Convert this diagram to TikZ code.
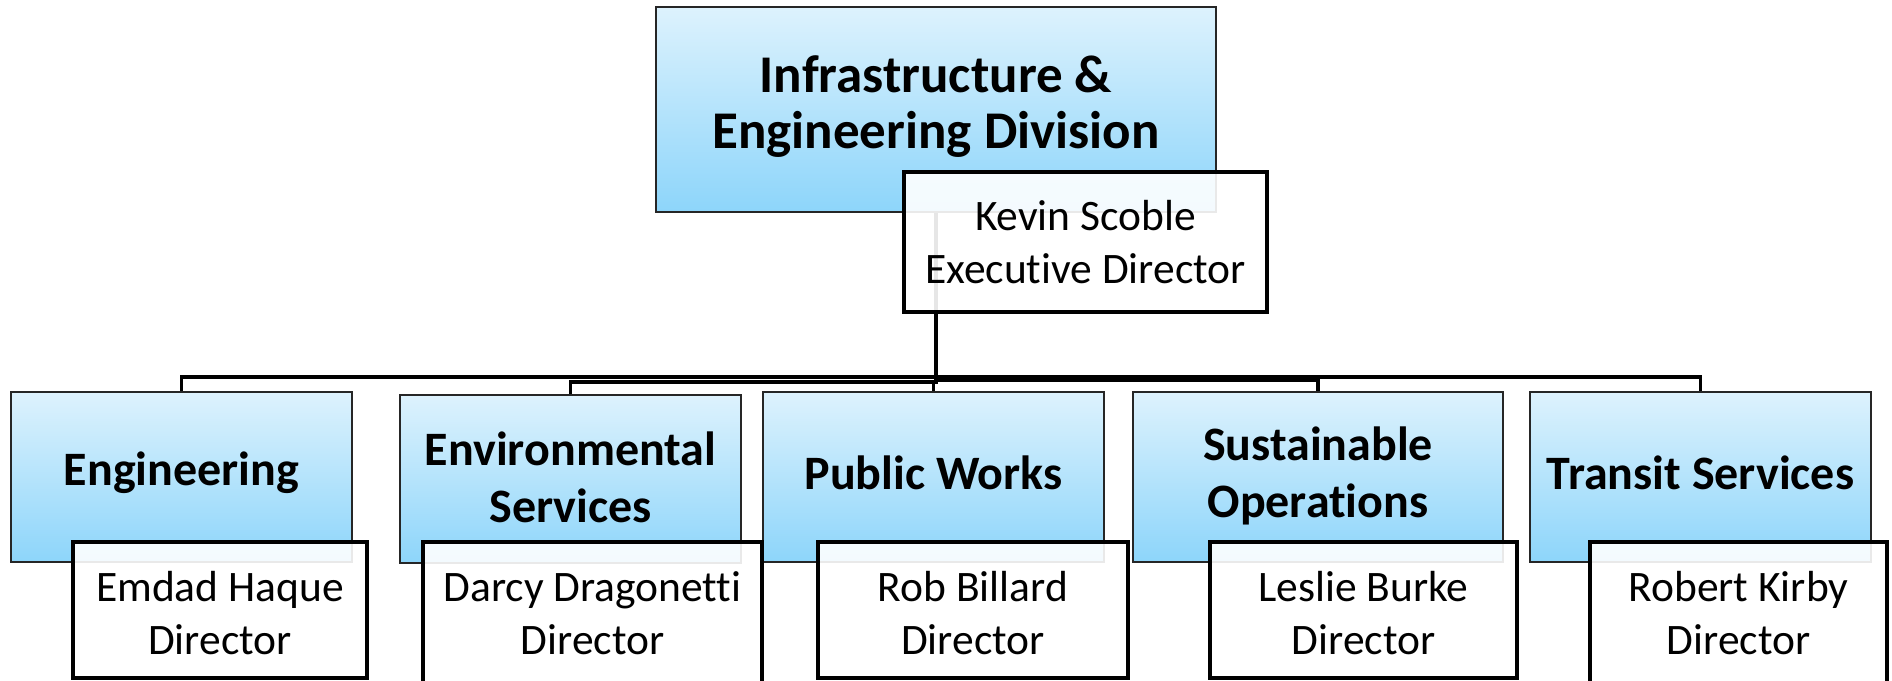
\documentclass[tikz,border=0pt]{standalone}
\usepackage{fontspec}
\setmainfont{Carlito}[Ligatures=NoCommon]
\begin{document}
\begin{tikzpicture}[x=1pt,y=-1pt,
  bluebox/.style={draw=black!85, line width=1.6pt, top color=topblue, bottom color=botblue, shading angle=0, inner sep=0pt},
  dirbox/.style={draw=black, line width=3.6pt, fill=white, fill opacity=0.9, inner sep=0pt},
  title/.style={align=center, font=\fontsize{48}{57}\selectfont\bfseries, inner sep=0pt},
  toptitle/.style={align=center, font=\fontsize{53}{56}\selectfont\bfseries, inner sep=0pt},
  person/.style={align=center, font=\fontsize{43.5}{53}\selectfont, inner sep=0pt},
  conn/.style={draw=black, line width=3.2pt, line join=miter}
]
\definecolor{topblue}{RGB}{221,242,253}
\definecolor{botblue}{RGB}{141,213,250}
\useasboundingbox (0,0) rectangle (1892,680);
\clip (0,0) rectangle (1892,680);
\fill[white] (0,0) rectangle (1892,680);

% blue boxes
\node[bluebox, minimum width=560, minimum height=205] (top) at (936,109.5) {};
\node[bluebox, minimum width=341, minimum height=170] (eng) at (181.5,477) {};
\node[bluebox, minimum width=341, minimum height=168] (env) at (570.5,479) {};
\node[bluebox, minimum width=341, minimum height=170] (pw) at (933.5,477) {};
\node[bluebox, minimum width=370, minimum height=170] (sust) at (1318,477) {};
\node[bluebox, minimum width=341, minimum height=170] (trans) at (1700.5,477) {};

% connectors
\coordinate (busA) at (936,377);
\coordinate (busB) at (936,382);
\coordinate (busC) at (936,380);
\draw[conn] (top.south) -- (top.south |- busA) -| (eng.north);
\draw[conn] (top.south) -- (top.south |- busB) -| (env.north);
\draw[conn] (top.south) -- (top.south |- busB) -| (pw.north);
\draw[conn] (top.south) -- (top.south |- busC) -| (sust.north);
\draw[conn] (top.south) -- (top.south |- busA) -| (trans.north);

% director boxes
\node[dirbox, minimum width=363, minimum height=140] (kevin) at (1085.5,242) {};
\node[dirbox, minimum width=294, minimum height=136] (emdad) at (220,610) {};
\node[dirbox, minimum width=339, minimum height=176] (darcy) at (592.5,630) {};
\node[dirbox, minimum width=310, minimum height=136] (rob) at (973,610) {};
\node[dirbox, minimum width=307, minimum height=136] (leslie) at (1363.5,610) {};
\node[dirbox, minimum width=297, minimum height=176] (robert) at (1738.5,630) {};

% texts
\node[toptitle] (topT) at (936,107) {Infrastructure \&\\Engineering Division};
\node[title] (engT) at (181.5,473) {Engineering};
\node[title] (envT) at (570.5,477) {Environmental\\Services};
\node[title] (pwT) at (933.5,473) {Public Works};
\node[title] (sustT) at (1318,476) {Sustainable\\Operations};
\node[title] (transT) at (1700.5,473) {Transit Services};

\node[person] (kevinT) at (1085.5,242) {Kevin Scoble\\Executive Director};
\node[person] (emdadT) at (220,613) {Emdad Haque\\Director};
\node[person] (darcyT) at (592.5,613) {Darcy Dragonetti\\Director};
\node[person] (robT) at (973,613) {Rob Billard\\Director};
\node[person] (leslieT) at (1363.5,613) {Leslie Burke\\Director};
\node[person] (robertT) at (1738.5,613) {Robert Kirby\\Director};
\end{tikzpicture}
\end{document}
